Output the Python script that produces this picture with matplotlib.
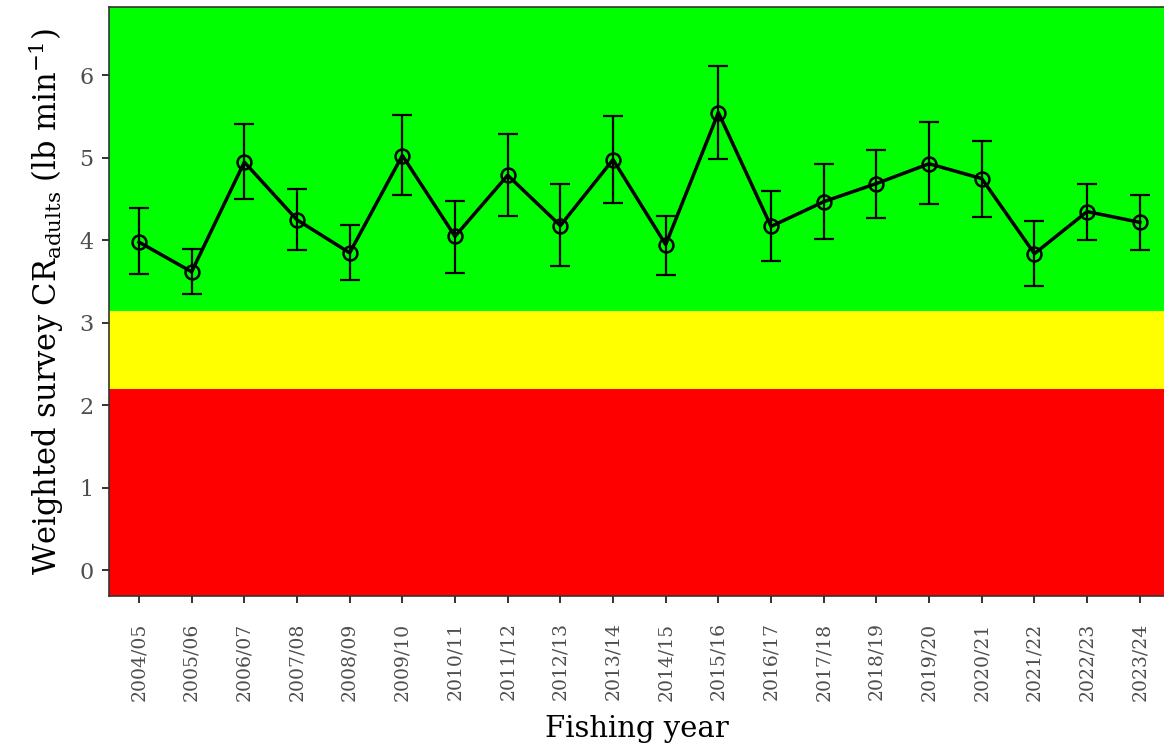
import numpy as np
import matplotlib.pyplot as plt

plt.rcParams['font.family'] = ['DejaVu Serif']
plt.rcParams['mathtext.fontset'] = 'dejavuserif'

years = ['2004/05', '2005/06', '2006/07', '2007/08', '2008/09', '2009/10', '2010/11',
         '2011/12', '2012/13', '2013/14', '2014/15', '2015/16', '2016/17', '2017/18',
         '2018/19', '2019/20', '2020/21', '2021/22', '2022/23', '2023/24']
cr = [3.98, 3.62, 4.95, 4.25, 3.85, 5.03, 4.05, 4.79, 4.18, 4.98,
      3.95, 5.55, 4.17, 4.47, 4.69, 4.93, 4.75, 3.84, 4.35, 4.22]
lower = [3.59, 3.35, 4.50, 3.89, 3.52, 4.55, 3.61, 4.30, 3.69, 4.46,
         3.58, 4.99, 3.75, 4.02, 4.27, 4.44, 4.29, 3.45, 4.01, 3.88]
upper = [4.39, 3.90, 5.41, 4.62, 4.19, 5.52, 4.48, 5.29, 4.68, 5.51,
         4.30, 6.11, 4.60, 4.93, 5.10, 5.44, 5.21, 4.24, 4.69, 4.55]
limit_red = 2.2    # below: red
limit_yellow = 3.15  # below: yellow, above: green

x = np.arange(len(years))
cr = np.array(cr)
yerr = [cr - np.array(lower), np.array(upper) - cr]

fig = plt.figure(figsize=(11.64, 7.55), dpi=100)
ax = fig.add_axes([0.0936, 0.2106, 0.9064, 0.7801])

ymin, ymax = -0.31, 6.83
ax.axhspan(ymin, limit_red, color='#FF0000', lw=0)
ax.axhspan(limit_red, limit_yellow, color='#FFFF00', lw=0)
ax.axhspan(limit_yellow, ymax, color='#00FF00', lw=0)

ax.errorbar(x, cr, yerr=yerr, fmt='none', ecolor='black', elinewidth=1.6,
            capsize=7, capthick=1.6, zorder=3)
ax.plot(x, cr, color='black', lw=2.5, marker='o', markersize=10,
        markerfacecolor='none', markeredgewidth=1.8, zorder=4)

ax.set_ylim(ymin, ymax)
ax.set_xlim(-0.57, 19.46)
ax.set_yticks(range(0, 7))
ax.set_xticks(x)
ax.set_xticklabels(years, rotation=90)

for s in ax.spines.values():
    s.set_color('#333333')
    s.set_linewidth(1.2)
ax.spines['right'].set_visible(False)
ax.tick_params(axis='both', colors='#333333', length=5, width=1.4)
ax.tick_params(axis='y', labelsize=16, labelcolor='#4d4d4d', pad=6)
ax.tick_params(axis='x', labelsize=13.5, labelcolor='#4d4d4d', pad=14)

ax.set_ylabel(r'Weighted survey CR$_{\mathrm{adults}}$ (lb min$^{-1}$)', fontsize=22,
              labelpad=10)
ax.set_xlabel('Fishing year', fontsize=21, labelpad=10)

fig.savefig('out.png', dpi=100)
